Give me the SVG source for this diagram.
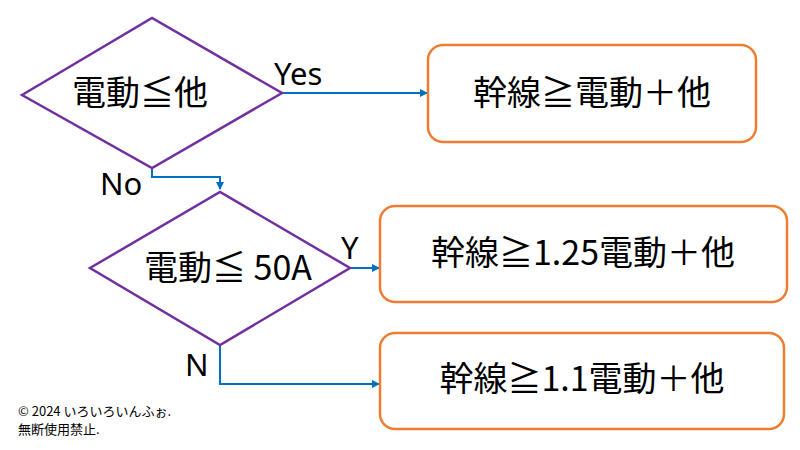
<svg xmlns="http://www.w3.org/2000/svg" width="800" height="450" viewBox="0 0 800 450">
<defs>
<marker id="ar" markerWidth="8" markerHeight="8" refX="7" refY="4" orient="auto" markerUnits="userSpaceOnUse"><path d="M0,0 L8,4 L0,8 z" fill="#0070C0"/></marker>
<style>
.d{fill:#fff;stroke:#7030A0;stroke-width:2.5}
.b{fill:#fff;stroke:#ED7D31;stroke-width:2.5}
.t{font-family:"Noto Sans CJK JP","Noto Sans",sans-serif;font-size:34px;fill:#000}
.l{font-family:"Noto Sans","Liberation Sans",sans-serif;font-size:31px;fill:#000}
.c{fill:none;stroke:#0070C0;stroke-width:2;marker-end:url(#ar)}
.s{font-family:"Noto Sans CJK JP","Noto Sans",sans-serif;font-size:13px;fill:#000}
</style>
</defs>
<rect width="800" height="450" fill="#fff"/>
<g id="connectors">
<path class="c" d="M282,93 H427"/>
<path class="c" d="M152,168 V177 H220 V189"/>
<path class="c" d="M350,268 H379"/>
<path class="c" d="M220,345 V384 H379"/>
<text class="l" x="274" y="85">Yes</text>
<text class="l" x="100" y="195">No</text>
<text class="l" x="341" y="259">Y</text>
<text class="l" x="185" y="376">N</text>
</g>
<g id="d1"><polygon class="d" points="22,95 152,18 282,93 152,168"/><text class="t" x="140" y="105" text-anchor="middle">電動≦他</text></g>
<g id="d2"><polygon class="d" points="90,268 220,192 350,268 220,345"/><text class="t" x="228" y="280" text-anchor="middle">電動≦ 50A</text></g>
<g id="b1"><rect class="b" x="428" y="45" width="328" height="97" rx="15"/><text class="t" x="592" y="105" text-anchor="middle">幹線≧電動＋他</text></g>
<g id="b2"><rect class="b" x="380" y="206" width="407" height="96" rx="15"/><text class="t" x="583" y="265" text-anchor="middle">幹線≧1.25電動＋他</text></g>
<g id="b3"><rect class="b" x="380" y="333" width="404" height="96" rx="15"/><text class="t" x="582" y="391" text-anchor="middle">幹線≧1.1電動＋他</text></g>
<text class="s" x="18" y="416">© 2024 いろいろいんふぉ.</text>
<text class="s" x="18" y="434">無断使用禁止.</text>
</svg>
